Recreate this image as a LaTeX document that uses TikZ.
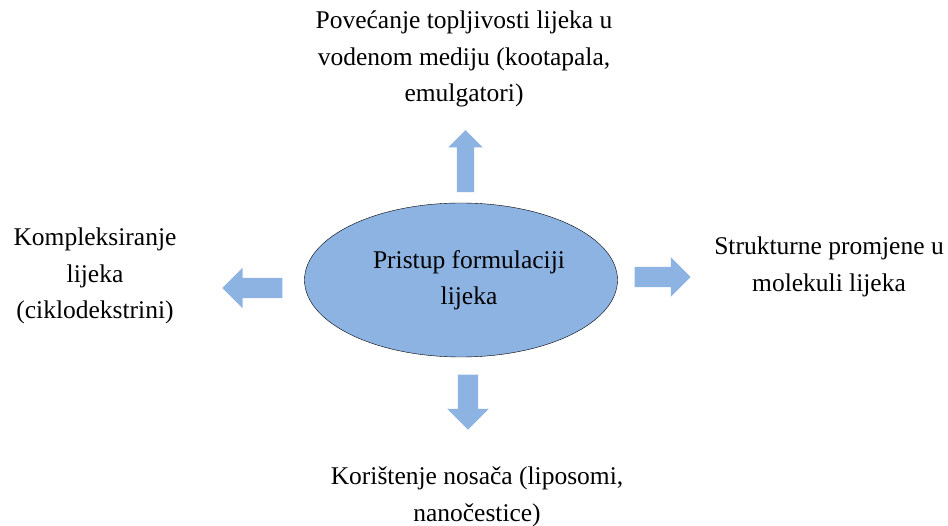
\documentclass[tikz,border=0pt]{standalone}
\usepackage{fontspec}
\setmainfont{Liberation Serif}
\usetikzlibrary{shapes,shapes.arrows}
\definecolor{lightblue}{HTML}{8DB3E2}
\tikzset{txt/.style={align=center, inner sep=0pt, font=\fontsize{25.5}{36.5}\selectfont},
	blockarrow/.style n args={3}{single arrow, fill=lightblue, draw=none, inner sep=0pt, text width=0pt, text height=#2, text depth=0pt, single arrow head indent=0pt, minimum height=#1, single arrow head extend=#3}}

\begin{document}
\begin{tikzpicture}[x=1pt,y=-1pt]
	\useasboundingbox (0,0) rectangle (948,526);
	\node [ellipse, draw=black, fill=lightblue, minimum width=313pt, minimum height=154pt, txt] (centre) at (461,280) {\hspace*{16pt}Pristup formulaciji\\\hspace*{16pt}lijeka};
	\node [blockarrow={62pt}{17pt}{8.5pt}, rotate=90] (aup) at (465.5,165.5) {};
	\node [blockarrow={60pt}{20pt}{10pt}, rotate=180] (aleft) at (257.5,288) {};
	\node [blockarrow={56pt}{20pt}{9.5pt}] (aright) at (657.5,277) {};
	\node [blockarrow={55pt}{20pt}{10.5pt}, rotate=-90] (adown) at (468,397) {};
	\node [txt] (topics) at (464,59) {Povećanje topljivosti lijeka u\\vodenom mediju (kootapala,\\emulgatori)};
	\node [txt] (complex) at (95,276) {Kompleksiranje\\lijeka\\(ciklodekstrini)};
	\node [txt] (struct) at (829,267) {Strukturne promjene u\\molekuli lijeka};
	\node [txt] (carrier) at (477,497) {Korištenje nosača (liposomi,\\nanočestice)};
\end{tikzpicture}
\end{document}
